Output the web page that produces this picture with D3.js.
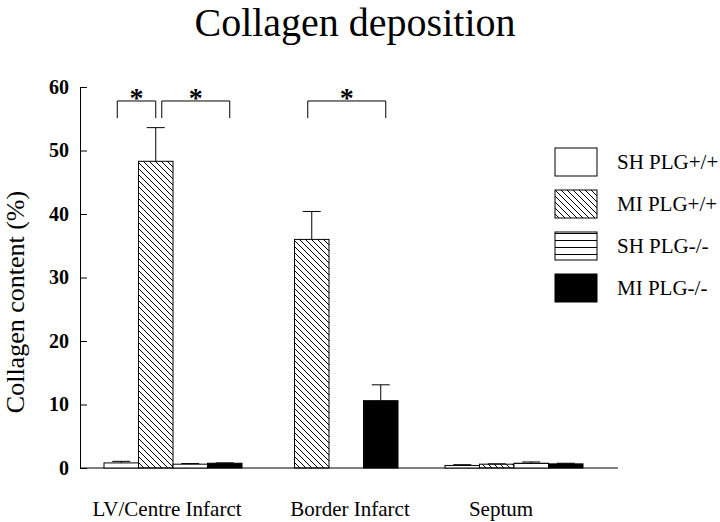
<!DOCTYPE html>
<html>
<head>
<meta charset="utf-8">
<script src="https://cdn.jsdelivr.net/npm/d3@7"></script>
<style>
  body { margin: 0; background: #fff; }
  text { font-family: "Liberation Serif", "DejaVu Serif", serif; fill: #000; }
</style>
</head>
<body>
<div id="chart"></div>
<script>
var groups = ["LV/Centre Infarct", "Border Infarct", "Septum"];
var series = ["SH PLG+/+", "MI PLG+/+", "SH PLG-/-", "MI PLG-/-"];

// mean collagen content (%) per group, one array per series
var shPos = [0.8, null, 0.4];
var miPos = [48.3, 36.0, 0.6];
var shNeg = [0.6, null, 0.75];
var miNeg = [0.75, 10.6, 0.65];

// upper error (SEM)
var shPosErr = [0.25, null, 0.12];
var miPosErr = [5.3, 4.4, 0.05];
var shNegErr = [0.1, null, 0.2];
var miNegErr = [0.05, 2.5, 0.1];

var yTicks = [0, 10, 20, 30, 40, 50, 60];

// significance brackets: group, from series, to series
var brackets = [
  {g: 0, a: 0, b: 1},
  {g: 0, a: 1, b: 3},
  {g: 1, a: 1, b: 3}
];

var means = [shPos, miPos, shNeg, miNeg];
var errs = [shPosErr, miPosErr, shNegErr, miNegErr];

var W = 720, H = 522;

var svg = d3.select("#chart").append("svg")
    .attr("width", W)
    .attr("height", H);

var defs = svg.append("defs");

defs.append("pattern")
    .attr("id", "hatch")
    .attr("patternUnits", "userSpaceOnUse")
    .attr("width", 6).attr("height", 6)
  .append("path")
    .attr("d", "M-1,-1L7,7M-1,5L1,7M5,-1L7,1")
    .attr("stroke", "#000")
    .attr("stroke-width", 1);

var hl = defs.append("pattern")
    .attr("id", "hlines")
    .attr("patternUnits", "userSpaceOnUse")
    .attr("y", 233)
    .attr("width", 10).attr("height", 7);
hl.append("rect").attr("width", 10).attr("height", 7).attr("fill", "#fff");
hl.append("line")
    .attr("x1", 0).attr("x2", 10)
    .attr("y1", 6.5).attr("y2", 6.5)
    .attr("stroke", "#000");

var fills = ["#fff", "url(#hatch)", "url(#hlines)", "#000"];

var y = d3.scaleLinear().domain([0, 60]).range([468, 87]);

// group left edges and label centres (the original spacing is uneven)
var gx = d3.scaleOrdinal().domain(groups).range([104, 260, 445]);
var lx = d3.scaleOrdinal().domain(groups).range([167, 350, 501]);
var bx = d3.scaleBand().domain(series).range([0, 138]);

// title
svg.append("text")
    .attr("x", 355).attr("y", 36)
    .attr("text-anchor", "middle")
    .style("font-size", "40px")
    .text("Collagen deposition");

// y axis
var yAxis = d3.axisLeft(y)
    .tickValues(yTicks)
    .tickSize(-7)
    .tickSizeOuter(0)
    .tickPadding(11);

var ya = svg.append("g")
    .attr("transform", "translate(80,0)")
    .call(yAxis);
ya.selectAll("path, line").attr("stroke", "#000");
ya.selectAll("text")
    .style("font-family", "'Liberation Serif', serif")
    .style("font-weight", "bold")
    .style("font-size", "20px");

// x baseline
svg.append("line")
    .attr("x1", 80).attr("x2", 618)
    .attr("y1", y(0)).attr("y2", y(0))
    .attr("stroke", "#000");

svg.append("text")
    .attr("transform", "translate(24," + 302 + ") rotate(-90)")
    .attr("text-anchor", "middle")
    .style("font-size", "26px")
    .text("Collagen content (%)");

// bars
var cells = [];
groups.forEach(function (g, gi) {
  series.forEach(function (s, si) {
    if (means[si][gi] != null) {
      cells.push({g: g, s: s, si: si, v: means[si][gi], e: errs[si][gi]});
    }
  });
});

svg.append("g").selectAll("rect")
    .data(cells)
    .enter().append("rect")
    .attr("x", function (d) { return gx(d.g) + bx(d.s); })
    .attr("y", function (d) { return y(d.v); })
    .attr("width", bx.bandwidth())
    .attr("height", function (d) { return y(0) - y(d.v); })
    .attr("fill", function (d) { return fills[d.si]; })
    .attr("stroke", "#000")
    .attr("stroke-width", 1);

// error bars
var eb = svg.append("g").selectAll("g")
    .data(cells)
    .enter().append("g")
    .attr("stroke", "#000");
eb.append("line")
    .attr("x1", function (d) { return gx(d.g) + bx(d.s) + bx.bandwidth() / 2; })
    .attr("x2", function (d) { return gx(d.g) + bx(d.s) + bx.bandwidth() / 2; })
    .attr("y1", function (d) { return y(d.v); })
    .attr("y2", function (d) { return y(d.v + d.e); });
eb.append("line")
    .attr("x1", function (d) { return gx(d.g) + bx(d.s) + bx.bandwidth() / 2 - 9; })
    .attr("x2", function (d) { return gx(d.g) + bx(d.s) + bx.bandwidth() / 2 + 9; })
    .attr("y1", function (d) { return y(d.v + d.e); })
    .attr("y2", function (d) { return y(d.v + d.e); });

// significance brackets
function cx(gi, si) {
  return gx(groups[gi]) + bx(series[si]) + bx.bandwidth() / 2;
}
brackets.forEach(function (b) {
  var startsShared = brackets.some(function (o) { return o !== b && o.g === b.g && o.b === b.a; });
  var endsShared = brackets.some(function (o) { return o !== b && o.g === b.g && o.a === b.b; });
  var x1 = cx(b.g, b.a) + (startsShared ? 6 : -4);
  var x2 = cx(b.g, b.b) + (endsShared ? 0 : 5);
  var top = y(57.8), leg = y(55.1);
  svg.append("path")
      .attr("d", "M" + x1 + "," + leg + "V" + top + "H" + x2 + "V" + leg)
      .attr("fill", "none")
      .attr("stroke", "#000");
  svg.append("text")
      .attr("x", (x1 + x2) / 2).attr("y", top + 6)
      .attr("text-anchor", "middle")
      .style("font-size", "28px")
      .style("font-weight", "bold")
      .text("*");
});

// x labels
svg.append("g").selectAll("text")
    .data(groups)
    .enter().append("text")
    .attr("x", function (d) { return lx(d); })
    .attr("y", 516)
    .attr("text-anchor", "middle")
    .style("font-size", "21px")
    .text(function (d) { return d; });

// legend
var lg = svg.append("g").selectAll("g")
    .data(series)
    .enter().append("g")
    .attr("transform", function (d, i) { return "translate(555," + (148 + i * 42) + ")"; });
lg.append("rect")
    .attr("width", 42).attr("height", 28)
    .attr("fill", function (d, i) { return fills[i]; })
    .attr("stroke", "#000");
lg.append("text")
    .attr("x", 62).attr("y", 21)
    .style("font-size", "21px")
    .text(function (d) { return d; });
</script>
</body>
</html>
